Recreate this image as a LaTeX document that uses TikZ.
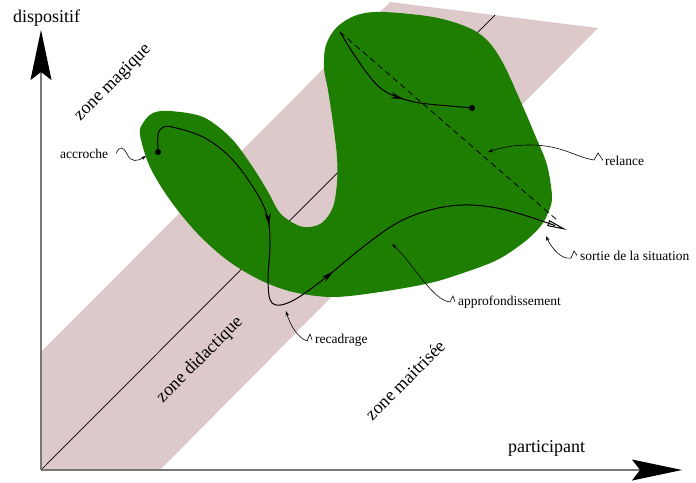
\documentclass[tikz,border=0pt]{standalone}
\usepackage{fontspec}
\setmainfont{Liberation Serif}
\usetikzlibrary{arrows.meta,decorations.markings}
\definecolor{bandpink}{RGB}{222,201,202}
\definecolor{blobgreen}{RGB}{29,126,2}
\definecolor{axisgray}{RGB}{120,120,120}
\tikzset{
  axis/.style={draw=axisgray,line width=1.4pt,-{Stealth[length=50pt,width=21pt,inset=8pt,color=black]}},
  bigtext/.style={font=\fontsize{18}{20}\selectfont,inner sep=0pt},
  zone/.style={bigtext,rotate=45},
  smalltext/.style={font=\fontsize{13.5}{15}\selectfont,inner sep=0pt,anchor=base west},
  leader/.style={line width=0.6pt,-{Stealth[length=5pt,width=3.5pt]}},
  track/.style={line width=1pt},
  dot/.style={circle,fill=black,inner sep=0pt,minimum size=6pt}
}
\begin{document}
\begin{tikzpicture}[x=1pt,y=-1pt]
\useasboundingbox (0,0) rectangle (696,482);
% zones
\fill[bandpink] (41,352) -- (390,2) -- (598,28) -- (160,470) -- (41,470) -- cycle;
\coordinate (origin) at (41,470);
\coordinate (diagEnd) at (495,15);
\draw[line width=0.7pt] (origin) -- (diagEnd);
% situation
\fill[blobgreen] plot[smooth cycle,tension=0.55] coordinates {
  (170,111) (203,117) (230,137) (250,163) (267,190) (280,213) (297,225) (310,227)
  (323,222) (333,207) (337,183) (337,157) (333,123) (328,90) (324,68) (326,45)
  (337,27) (357,15) (383,12) (433,17) (467,27) (487,40) (503,63) (520,100)
  (535,135) (547,165) (552,197) (548,213) (540,227) (523,243) (497,260) (463,273)
  (430,283) (380,292) (333,297) (293,292) (260,280) (227,260) (197,233) (170,200)
  (150,167) (140,135) (143,123) (153,113)};
% axes
\coordinate (yTip) at (41,30);
\coordinate (xTip) at (682,470);
\draw[axis] (origin) -- (yTip);
\draw[axis] (origin) -- (xTip);
\node[bigtext,anchor=base west] (dispositif) at (13,22) {dispositif};
\node[bigtext,anchor=base west] (participant) at (508,452) {participant};
\node[zone] (magique) at (113,83) {zone magique};
\node[zone] (didactique) at (200,360) {zone didactique};
\node[zone] (maitrisee) at (405,380) {zone maitrisée};
% parcours
\node[dot] (accStart) at (158,152) {};
\coordinate (sortEnd) at (567,230);
\draw[track,-{Triangle[open,length=20pt,width=6pt]},postaction={decorate},
  decoration={markings,
    mark=at position 0.31 with {\arrow{Stealth[length=13pt,width=6pt]}},
    mark=at position 0.565 with {\arrow{Stealth[length=13pt,width=6pt]}}}]
  plot[smooth,tension=0.6] coordinates {(accStart.center) (158,135) (162,128) (172,127)
  (203,137) (230,157) (253,187) (267,215) (270,245) (268,280) (272,303) (290,302)
  (320,282) (363,247) (397,223) (430,210) (463,205) (497,208) (530,217) (sortEnd)};
\coordinate (relStart) at (340,32);
\node[dot] (relEnd) at (472,108) {};
\draw[track,postaction={decorate},
  decoration={markings,mark=at position 0.58 with {\arrow{Stealth[length=13pt,width=6pt]}}}]
  plot[smooth,tension=0.6] coordinates {(relStart) (353,53) (370,77) (383,90) (400,98)
  (420,103) (450,106) (relEnd.center)};
\coordinate (dashEnd) at (557,220);
\draw[line width=0.8pt,dash pattern=on 6pt off 4pt] (relStart) -- (dashEnd);
% commentaires
\node[smalltext] (acc) at (60,158) {accroche};
\node[smalltext] (rel) at (605,165) {relance};
\node[smalltext] (sor) at (580,260) {sortie de la situation};
\node[smalltext] (app) at (458,305) {approfondissement};
\node[smalltext] (rec) at (315,343) {recadrage};
\coordinate (accTip) at (146,156);
\coordinate (relTip) at (488,152);
\coordinate (sorTip) at (546,236);
\coordinate (appTip) at (392,244);
\coordinate (recTip) at (286,311);
\draw[leader] ([xshift=8pt]acc.east) .. controls (119,146) and (123,146) .. (127,154)
  .. controls (131,163) and (138,161) .. (accTip);
\draw[leader] ([xshift=-2pt]rel.west) -- (598,153) -- (594,160)
  .. controls (575,157) and (562,145) .. (530,145) .. controls (510,145) and (497,149) .. (relTip);
\draw[leader] ([xshift=-3pt]sor.west) -- (574,251) -- (571,258)
  .. controls (562,260) and (552,249) .. (sorTip);
\draw[leader] ([xshift=-3pt]app.west) -- (453,296) -- (450,302)
  .. controls (432,300) and (412,262) .. (appTip);
\draw[leader] ([xshift=-3pt]rec.west) -- (310,334) -- (307,341)
  .. controls (298,338) and (290,325) .. (recTip);
\end{tikzpicture}
\end{document}
